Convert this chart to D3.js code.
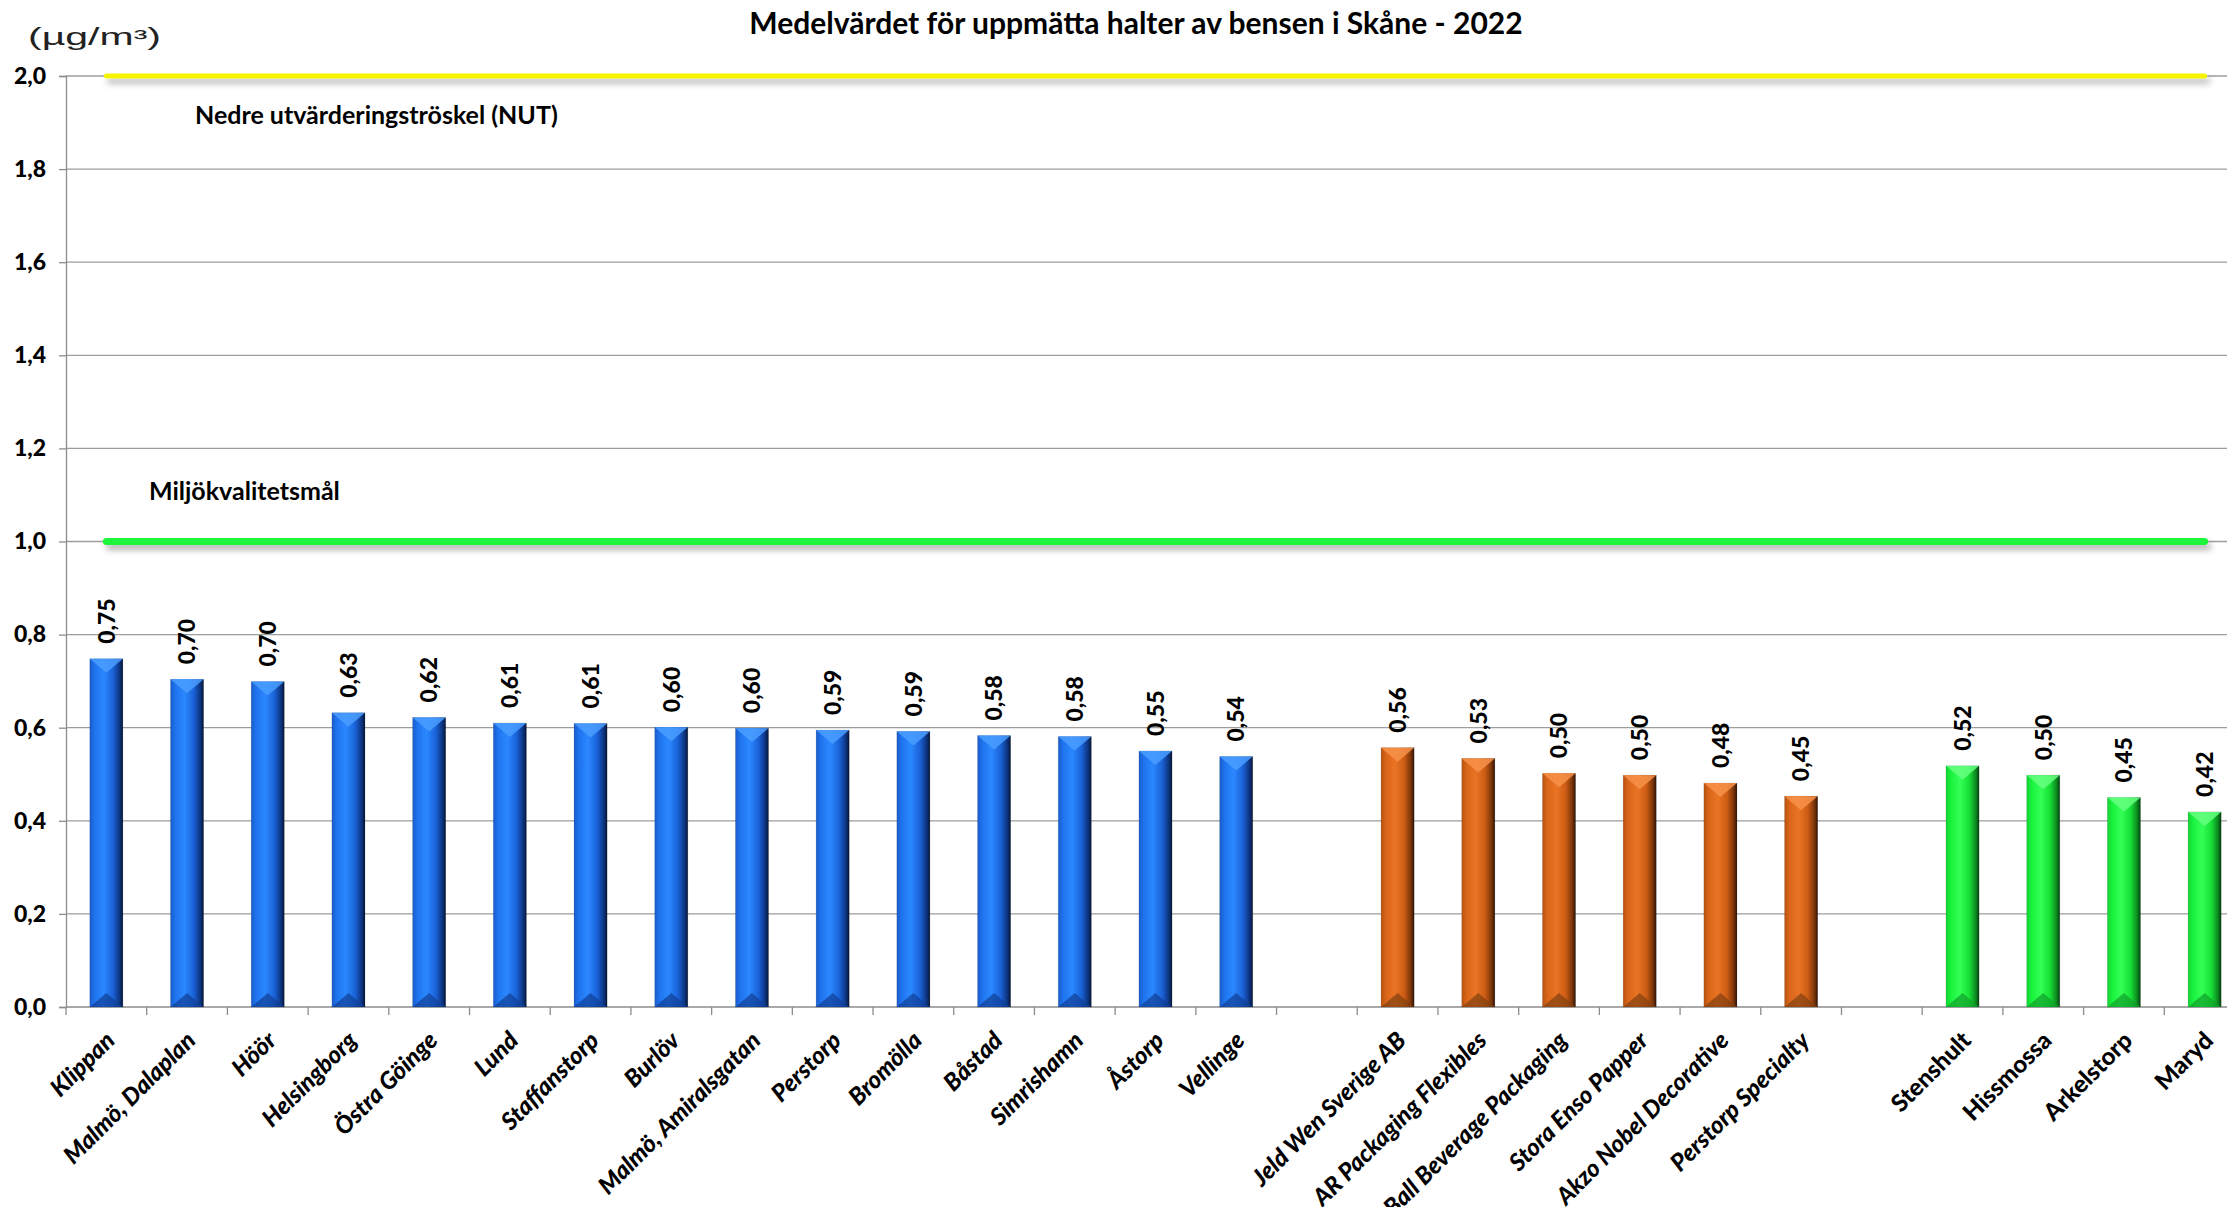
<!DOCTYPE html>
<html>
<head>
<meta charset="utf-8">
<script src="https://cdn.jsdelivr.net/npm/d3@7"></script>
<style>
  body { margin: 0; background: #fff; }
  svg { display: block; font-family: Lato, "Open Sans", sans-serif; }
</style>
</head>
<body>
<svg id="chart" width="2227" height="1207"></svg>
<script>
// mätstationer i tätorter (blå)
const stations = ["Klippan", "Malmö, Dalaplan", "Höör", "Helsingborg", "Östra Göinge", "Lund",
  "Staffanstorp", "Burlöv", "Malmö, Amiralsgatan", "Perstorp", "Bromölla", "Båstad",
  "Simrishamn", "Åstorp", "Vellinge"];
const stationValues = [0.748, 0.704, 0.699, 0.632, 0.622, 0.610, 0.609, 0.601, 0.599,
  0.595, 0.592, 0.583, 0.581, 0.550, 0.538];

// industrier (orange)
const industries = ["Jeld Wen Sverige AB", "AR Packaging Flexibles", "Ball Beverage Packaging",
  "Stora Enso Papper", "Akzo Nobel Decorative", "Perstorp Specialty"];
const industryValues = [0.557, 0.534, 0.502, 0.498, 0.481, 0.453];

// bakgrund (grön)
const background = ["Stenshult", "Hissmossa", "Arkelstorp", "Maryd"];
const backgroundValues = [0.518, 0.498, 0.450, 0.419];

const yTicks = [0, 0.2, 0.4, 0.6, 0.8, 1.0, 1.2, 1.4, 1.6, 1.8, 2.0];
const nutLevel = 2.0;
const goalLevel = 1.0;

const title = "Medelvärdet för uppmätta halter av bensen i Skåne - 2022";
const unit = "(µg/m³)";
const nutLabel = "Nedre utvärderingströskel (NUT)";
const goalLabel = "Miljökvalitetsmål";

// build rows, with an empty slot between the groups
const rows = [];
stations.forEach((n, i) => rows.push({ name: n, value: stationValues[i], group: "blue" }));
industries.forEach((n, i) => rows.push({ name: n, value: industryValues[i], group: "orange" }));
background.forEach((n, i) => rows.push({ name: n, value: backgroundValues[i], group: "green" }));
const slots = [...stations, "_gap1", ...industries, "_gap2", ...background];

const svg = d3.select("#chart");
const plotLeft = 66, plotRight = 2245, plotBottom = 1007, plotTop = 76;

const x = d3.scaleBand().domain(slots).range([plotLeft, plotRight]).paddingInner(0).paddingOuter(0);
const y = d3.scaleLinear().domain([0, 2]).range([plotBottom, plotTop]);
const bw = x.bandwidth() * 0.41;
const fmt = (v) => d3.format(".2f")(v).replace(".", ",");

// gradients
const defs = svg.append("defs");
const palettes = {
  blue: ["#1a5ccc", "#1f74ee", "#2b88ff", "#1a62d8", "#0d347f", "#051636"],
  orange: ["#b8530f", "#d9651a", "#ea7424", "#cc5c14", "#7a350a", "#2e1203"],
  green: ["#14d433", "#19f23d", "#33ff55", "#16e036", "#0c8a1f", "#034010"]
};
const bevel = {
  blue: { top: "#4a9dff", bottom: "#0f3f95" },
  orange: { top: "#f7924a", bottom: "#80400f" },
  green: { top: "#66ff80", bottom: "#10a02a" }
};
Object.entries(palettes).forEach(([k, c]) => {
  const g = defs.append("linearGradient").attr("id", "grad-" + k)
    .attr("x1", "0%").attr("x2", "100%").attr("y1", "0%").attr("y2", "0%");
  [0, 0.15, 0.42, 0.7, 0.9, 1].forEach((o, i) => {
    g.append("stop").attr("offset", o).attr("stop-color", c[i]);
  });
});
// a horizontal line has no height, so the filter region must be in user space
const shadow = defs.append("filter").attr("id", "shadow")
  .attr("filterUnits", "userSpaceOnUse")
  .attr("x", 0).attr("y", 0).attr("width", 2227).attr("height", 1207);
shadow.append("feDropShadow").attr("dx", 3).attr("dy", 5).attr("stdDeviation", 3)
  .attr("flood-color", "#000").attr("flood-opacity", 0.3);

// gridlines
svg.append("g").selectAll("line").data(yTicks.filter((d) => d > 0)).join("line")
  .attr("x1", plotLeft).attr("x2", plotRight)
  .attr("y1", (d) => y(d)).attr("y2", (d) => y(d))
  .attr("stroke", "#9d9d9d").attr("stroke-width", 1.3);

// y axis
const yAxis = svg.append("g").attr("transform", `translate(${plotLeft},0)`)
  .call(d3.axisLeft(y).tickValues(yTicks).tickSize(7).tickPadding(13)
    .tickFormat((d) => d3.format(".1f")(d).replace(".", ",")));
yAxis.select(".domain").attr("stroke", "#8c8c8c").attr("stroke-width", 1.3);
yAxis.selectAll(".tick line").attr("stroke", "#8c8c8c").attr("stroke-width", 1.3);
yAxis.selectAll(".tick text").attr("fill", "#000").style("font-size", "23px")
  .style("font-weight", "900").style("font-family", "Lato, sans-serif");

// x axis line and ticks at the band edges
svg.append("line").attr("x1", plotLeft).attr("x2", plotRight)
  .attr("y1", plotBottom).attr("y2", plotBottom).attr("stroke", "#8c8c8c").attr("stroke-width", 1.3);
const edges = slots.map((s) => x(s)).concat([plotRight]);
svg.append("g").selectAll("line").data(edges).join("line")
  .attr("x1", (d) => d).attr("x2", (d) => d)
  .attr("y1", plotBottom).attr("y2", plotBottom + 8)
  .attr("stroke", "#8c8c8c").attr("stroke-width", 1.3);

// bars
const bars = svg.append("g").selectAll("g").data(rows).join("g")
  .attr("transform", (d) => `translate(${x(d.name) + (x.bandwidth() - bw) / 2},0)`);
bars.append("rect")
  .attr("y", (d) => y(d.value)).attr("width", bw).attr("height", (d) => plotBottom - y(d.value))
  .attr("fill", (d) => `url(#grad-${d.group})`)
  .attr("stroke", "rgba(0,0,0,0.15)").attr("stroke-width", 0.8);
bars.append("path")
  .attr("d", (d) => {
    const t = y(d.value);
    return `M0,${t}L${bw},${t}L${bw / 2},${t + 14}Z`;
  })
  .attr("fill", (d) => bevel[d.group].top).attr("opacity", 0.85);
bars.append("path")
  .attr("d", (d) => `M0,${plotBottom}L${bw},${plotBottom}L${bw / 2},${plotBottom - 14}Z`)
  .attr("fill", (d) => bevel[d.group].bottom).attr("opacity", 0.7);

// value labels
svg.append("g").selectAll("text").data(rows).join("text")
  .attr("transform", (d) => `translate(${x(d.name) + x.bandwidth() / 2},${y(d.value) - 15}) rotate(-90)`)
  .attr("dy", "0.36em")
  .style("font-size", "23px").style("font-weight", "900")
  .text((d) => fmt(d.value));

// limit lines, one point per category
const centers = rows.map((d) => x(d.name) + x.bandwidth() / 2);
const limitLine = (lvl) => d3.line()(centers.map((c) => [c, y(lvl)]));
svg.append("path").attr("d", limitLine(nutLevel)).attr("fill", "none")
  .attr("stroke", "#f6f300").attr("stroke-width", 5).attr("stroke-linecap", "round")
  .attr("filter", "url(#shadow)");
svg.append("path").attr("d", limitLine(goalLevel)).attr("fill", "none")
  .attr("stroke", "#1ef53a").attr("stroke-width", 7).attr("stroke-linecap", "round")
  .attr("filter", "url(#shadow)");

// category labels
svg.append("g").selectAll("text").data(rows).join("text")
  .attr("transform", (d) => `translate(${x(d.name) + x.bandwidth() / 2 + 4},${plotBottom + 29}) rotate(-45)`)
  .attr("text-anchor", "end").attr("dy", "0.35em")
  .style("font-size", "24px").style("font-weight", "900")
  .style("font-style", (d) => d.group === "green" ? "normal" : "italic")
  .text((d) => d.name);

// annotations
svg.append("text").attr("x", 195).attr("y", 124)
  .style("font-size", "25px").style("font-weight", "bold").text(nutLabel);
svg.append("text").attr("x", 149).attr("y", 500)
  .style("font-size", "25px").style("font-weight", "bold").text(goalLabel);

// title and unit
svg.append("text").attr("x", 1136).attr("y", 34).attr("text-anchor", "middle")
  .style("font-size", "30px").style("font-weight", "bold").text(title);
svg.append("text").attr("x", 28).attr("y", 45)
  .attr("textLength", 133).attr("lengthAdjust", "spacingAndGlyphs")
  .style("font-family", "'Liberation Sans', Arial, sans-serif")
  .style("font-size", "23px").style("fill", "#222").text(unit);
</script>
</body>
</html>
